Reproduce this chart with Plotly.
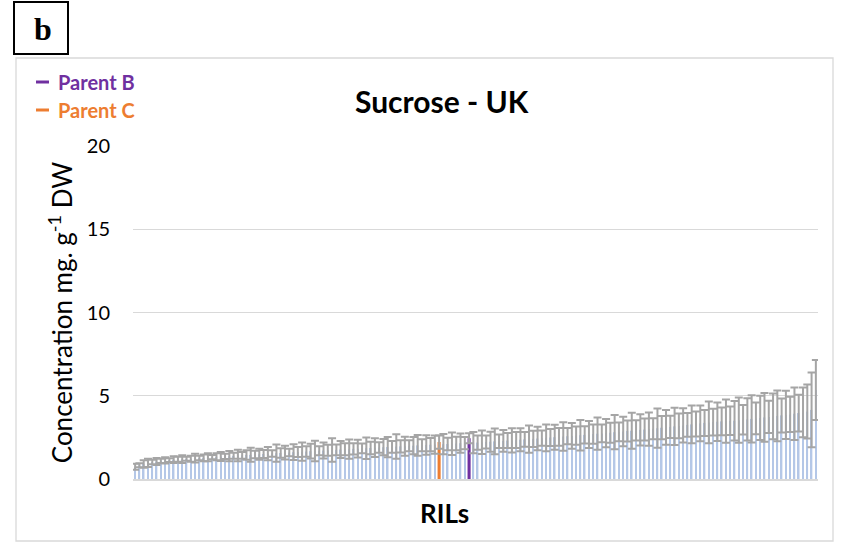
import plotly.graph_objects as go

# Sucrose concentration (mg g-1 DW) for each line, sorted ascending, with SD
sucrose_mean = [
    0.74, 0.82, 0.90, 0.97, 1.02, 1.05, 1.09, 1.12, 1.13, 1.16,
    1.18, 1.19, 1.21, 1.22, 1.25, 1.26, 1.27, 1.30, 1.31, 1.33,
    1.35, 1.36, 1.37, 1.39, 1.41, 1.42, 1.44, 1.45, 1.47, 1.48,
    1.50, 1.52, 1.53, 1.55, 1.56, 1.58, 1.59, 1.61, 1.62, 1.64,
    1.65, 1.67, 1.68, 1.70, 1.71, 1.72, 1.74, 1.75, 1.77, 1.78,
    1.79, 1.81, 1.82, 1.84, 1.85, 1.86, 1.88, 1.89, 1.91, 1.92,
    1.93, 1.95, 1.96, 1.97, 1.99, 2.00, 2.02, 2.03, 2.04, 2.06,
    2.07, 2.22, 2.09, 2.10, 2.12, 2.13, 2.15, 2.16, 2.45, 2.18,
    2.19, 2.21, 2.22, 2.24, 2.26, 2.27, 2.29, 2.31, 2.32, 2.34,
    2.36, 2.38, 2.39, 2.41, 2.43, 2.45, 2.47, 2.49, 2.51, 2.53,
    2.55, 2.57, 2.59, 2.61, 2.63, 2.65, 2.67, 2.70, 2.72, 2.74,
    2.76, 2.78, 2.81, 2.83, 2.85, 2.88, 2.90, 2.92, 2.95, 2.97,
    3.00, 3.02, 3.05, 3.08, 3.10, 3.13, 3.16, 3.19, 3.22, 3.25,
    3.28, 3.31, 3.34, 3.37, 3.40, 3.42, 3.44, 3.46, 3.48, 3.50,
    3.50, 3.53, 3.56, 3.58, 3.61, 3.64, 3.67, 3.70, 3.73, 3.76,
    3.79, 3.82, 3.85, 3.88, 3.92, 3.96, 4.00, 4.05, 4.15, 5.35,
]
sucrose_sd = [
    0.18, 0.12, 0.22, 0.25, 0.14, 0.21, 0.13, 0.19, 0.11, 0.20,
    0.15, 0.23, 0.12, 0.18, 0.26, 0.14, 0.20, 0.24, 0.13, 0.21,
    0.27, 0.16, 0.31, 0.18, 0.35, 0.20, 0.29, 0.42, 0.22, 0.33,
    0.24, 0.40, 0.19, 0.52, 0.28, 0.41, 0.23, 0.47, 0.30, 0.55,
    0.31, 0.44, 0.62, 0.27, 0.48, 0.33, 0.70, 0.32, 0.51, 0.36,
    0.58, 0.34, 0.53, 0.29, 0.65, 0.38, 0.56, 0.31, 0.49, 0.61,
    0.35, 0.74, 0.37, 0.57, 0.33, 0.52, 0.63, 0.36, 0.59, 0.40,
    0.55, 0.40, 0.61, 0.38, 0.68, 0.41, 0.58, 0.37, 0.30, 0.64,
    0.43, 0.71, 0.39, 0.60, 0.77, 0.41, 0.66, 0.45, 0.73, 0.48,
    0.69, 0.44, 0.82, 0.49, 0.71, 0.46, 0.80, 0.51, 0.75, 0.53,
    0.86, 0.49, 0.78, 0.55, 0.92, 0.52, 0.81, 0.58, 0.97, 0.54,
    0.85, 0.60, 1.03, 0.56, 0.89, 0.63, 1.08, 0.61, 0.94, 0.66,
    1.00, 0.63, 1.18, 0.70, 1.05, 0.67, 1.12, 0.74, 1.03, 0.71,
    1.14, 0.75, 1.08, 0.78, 1.25, 0.80, 1.16, 0.83, 1.30, 0.86,
    1.19, 1.36, 0.88, 1.27, 1.42, 0.95, 1.33, 1.47, 0.97, 1.38,
    1.52, 1.02, 1.45, 1.06, 1.58, 1.10, 1.49, 1.62, 2.25, 1.80,
]
# positions of the two parental lines within the sorted series
parent_index = {"Parent C": 71, "Parent B": 78}
parent_color = {"Parent B": "#7030A0", "Parent C": "#ED7D31"}
y_ticks = [0, 5, 10, 15, 20]

RIL_COLOR = "#B4C7E7"
ERR_COLOR = "#A5A5A5"
GRID_COLOR = "#D9D9D9"
FONT = "Lato"

n = len(sucrose_mean)
colors = [RIL_COLOR] * n
widths = [0.36] * n
for name, i in parent_index.items():
    colors[i] = parent_color[name]
    widths[i] = 0.72

W, H = 845, 545
PL, PR, PT, PB = 133, 818, 146, 479  # plot-area pixel edges


def px(x):
    return (x - PL) / (PR - PL)


def py(y):
    return (PB - y) / (PB - PT)


fig = go.Figure()
fig.add_trace(go.Bar(
    x=list(range(n)),
    y=sucrose_mean,
    width=widths,
    marker=dict(color=colors, line=dict(width=0)),
    error_y=dict(type="data", array=sucrose_sd, visible=True,
                 color=ERR_COLOR, thickness=2, width=4),
    showlegend=False,
    hoverinfo="y",
))

shapes = [
    # outer chart frame
    dict(type="rect", xref="paper", yref="paper",
         x0=px(16), x1=px(833), y0=py(541), y1=py(58),
         line=dict(color=GRID_COLOR, width=1.3), layer="below"),
    # panel label box
    dict(type="rect", xref="paper", yref="paper",
         x0=px(14), x1=px(68), y0=py(54), y1=py(2),
         line=dict(color="black", width=2)),
]
annotations = [
    dict(text="<b>b</b>", xref="paper", yref="paper", x=px(43), y=py(29),
         xanchor="center", yanchor="middle", showarrow=False,
         font=dict(family="Liberation Serif", size=32, color="black")),
    dict(text="<b>Sucrose - UK</b>", xref="paper", yref="paper", x=px(442), y=py(101),
         xanchor="center", yanchor="middle", showarrow=False,
         font=dict(family=FONT, size=30, color="black")),
    dict(text="<b>RILs</b>", xref="paper", yref="paper", x=px(444), y=py(513),
         xanchor="center", yanchor="middle", showarrow=False,
         font=dict(family=FONT, size=26, color="black")),
]
for k, name in enumerate(["Parent B", "Parent C"]):
    yc = 82 + 28 * k
    shapes.append(dict(type="line", xref="paper", yref="paper",
                       x0=px(36), x1=px(49), y0=py(yc), y1=py(yc),
                       line=dict(color=parent_color[name], width=3)))
    annotations.append(dict(text=f"<b>{name}</b>", xref="paper", yref="paper",
                            x=px(56), y=py(yc), xanchor="left", yanchor="middle",
                            showarrow=False,
                            font=dict(family=FONT, size=20, color=parent_color[name])))

fig.update_layout(
    width=W, height=H,
    margin=dict(l=PL, r=W - PR, t=PT, b=H - PB, autoexpand=False),
    paper_bgcolor="white", plot_bgcolor="white",
    bargap=0.6,
    shapes=shapes,
    annotations=annotations,
    font=dict(family=FONT, color="black"),
    xaxis=dict(range=[-0.5, n - 0.5], showticklabels=False, ticks="",
               showgrid=False, zeroline=False, showline=True,
               linecolor=GRID_COLOR, linewidth=2),
    yaxis=dict(range=[0, 20], tickvals=y_ticks, ticks="",
               tickfont=dict(size=20), ticklabelstandoff=22,
               showgrid=True, gridcolor=GRID_COLOR, gridwidth=1.3,
               zeroline=False, showline=False,
               title=dict(text="Concentration mg. g<sup>-1</sup> DW",
                          font=dict(size=26), standoff=6)),
)

fig.write_html("out.html")
